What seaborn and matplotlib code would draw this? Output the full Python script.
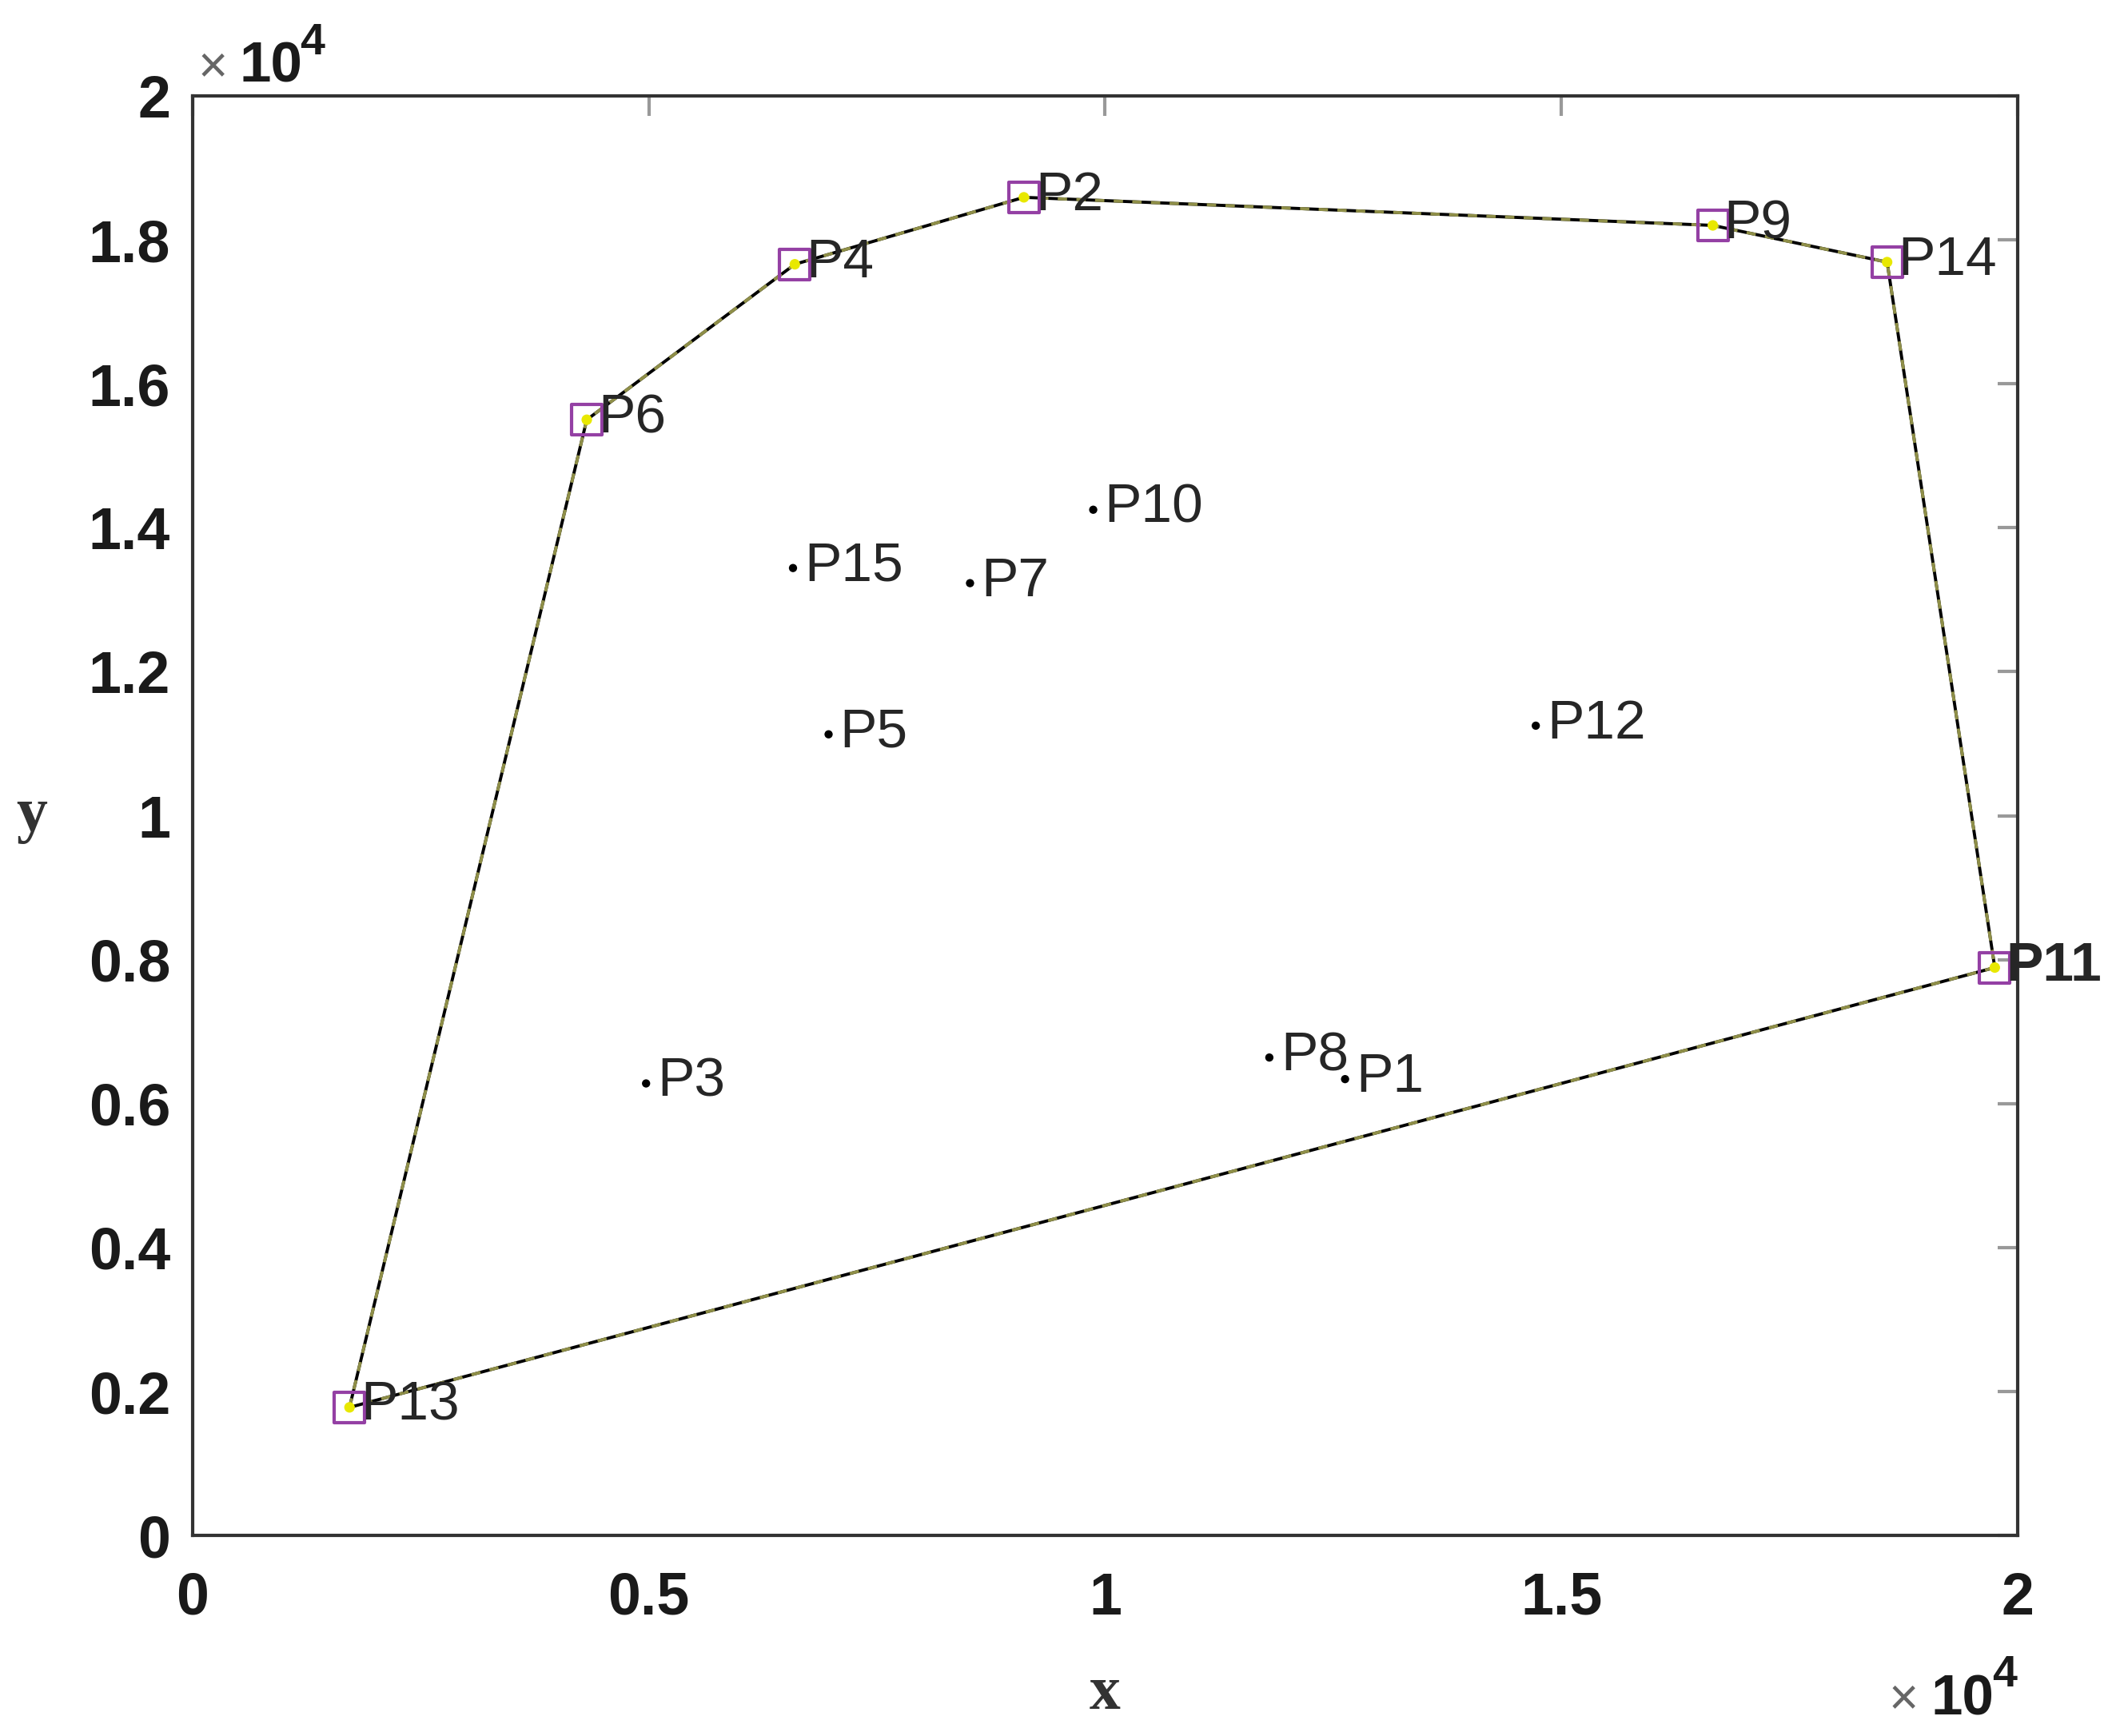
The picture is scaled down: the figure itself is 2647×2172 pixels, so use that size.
import matplotlib
matplotlib.use("Agg")
import matplotlib.pyplot as plt
import seaborn as sns
import pandas as pd

# point data
names = ["P1", "P2", "P3", "P4", "P5", "P6", "P7", "P8", "P9", "P10",
         "P11", "P12", "P13", "P14", "P15"]
xs = [12630, 9110, 4970, 6600, 6970, 4320, 8520, 11800, 16660, 9870,
      19750, 14720, 1720, 18570, 6580]
ys = [6340, 18590, 6280, 17660, 11130, 15500, 13230, 6640, 18200, 14250,
      7890, 11250, 1780, 17690, 13440]

# convex hull order
hull = ["P13", "P6", "P4", "P2", "P9", "P14", "P11", "P13"]

x_ticks = [0, 5000, 10000, 15000, 20000]
x_labels = ["0", "0.5", "1", "1.5", "2"]
y_ticks = [0, 2000, 4000, 6000, 8000, 10000, 12000, 14000, 16000, 18000, 20000]
y_labels = ["0", "0.2", "0.4", "0.6", "0.8", "1", "1.2", "1.4", "1.6", "1.8", "2"]

df = pd.DataFrame({"name": names, "x": xs, "y": ys})
hull_df = df.set_index("name").loc[hull].reset_index()

sns.set_style("white")
plt.rcParams["font.family"] = ["Liberation Sans", "DejaVu Sans"]

fig = plt.figure(figsize=(26.47, 21.72), dpi=100)
ax = fig.add_axes([0.091, 0.1155, 0.8625, 0.8293])

# hull edges
sns.lineplot(data=hull_df, x="x", y="y", sort=False, estimator=None,
             color="black", linewidth=2.8, ax=ax, zorder=2)
ax.plot(hull_df["x"], hull_df["y"], color="#8f8f48", linewidth=2.8,
        linestyle=(0, (3, 3)), zorder=3)

# all points
sns.scatterplot(data=df, x="x", y="y", color="black", s=55, edgecolor="none",
                ax=ax, zorder=4)

# hull vertices
sns.scatterplot(data=hull_df.iloc[:-1], x="x", y="y", marker="s", s=750,
                facecolor="none", edgecolor="#9440a4", linewidth=3, ax=ax, zorder=5)
sns.scatterplot(data=hull_df.iloc[:-1], x="x", y="y", color="#e8e800", s=90,
                edgecolor="none", ax=ax, zorder=6)

for n, x, y in zip(names, xs, ys):
    ax.annotate(n, (x, y), xytext=(14, 2), textcoords="offset pixels",
                fontsize=50, va="center", ha="left",
                fontweight="bold" if n == "P11" else "normal",
                annotation_clip=False, clip_on=False, zorder=7)

ax.set_xlim(0, 20000)
ax.set_ylim(0, 20000)
ax.set_xticks(x_ticks)
ax.set_xticklabels(x_labels)
ax.set_yticks(y_ticks)
ax.set_yticklabels(y_labels)
ax.tick_params(direction="in", length=18, width=3, color="#999999",
               top=True, right=True, labelsize=53)
ax.tick_params(axis="x", pad=32)
ax.tick_params(axis="y", pad=20)
for lab in ax.get_xticklabels() + ax.get_yticklabels():
    lab.set_fontweight("bold")
    lab.set_color("#1a1a1a")
for sp in ax.spines.values():
    sp.set_color("#333333")
    sp.set_linewidth(3)

ax.set_xlabel("x", family="Liberation Serif", fontsize=56, color="#333333",
              fontweight="bold", va="center")
ax.set_ylabel("y", family="Liberation Serif", fontsize=56, color="#333333",
              fontweight="bold", rotation=0, va="center", ha="center")
ax.xaxis.set_label_coords(0.5, -0.11)
ax.yaxis.set_label_coords(-0.088, 0.5)

# x10^4 multipliers
def mult(x0, x1, x2, yb, ys):
    fig.text(x0, yb, "\u00d7", fontsize=46, color="#666666", ha="left", va="baseline")
    fig.text(x1, yb, "10", fontsize=51, fontweight="bold", color="#1a1a1a",
             ha="left", va="baseline")
    fig.text(x2, ys, "4", fontsize=40, fontweight="bold",
             color="#1a1a1a", ha="left", va="baseline")

mult(0.0935, 0.1133, 0.1417, 0.9526, 0.9687)
mult(0.8925, 0.9124, 0.9415, 0.0124, 0.0285)

fig.savefig("out.png", dpi=100, facecolor="white")
